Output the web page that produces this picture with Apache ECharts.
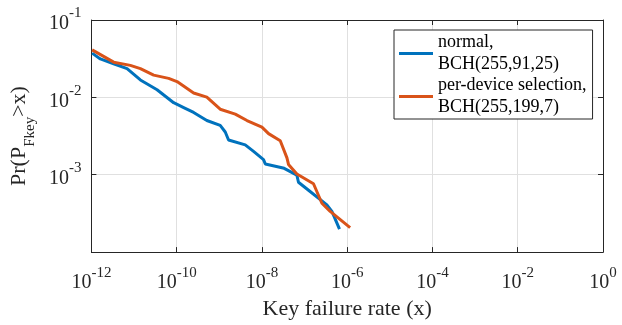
<!DOCTYPE html>
<html>
<head>
<meta charset="utf-8">
<script src="https://cdn.jsdelivr.net/npm/echarts@6/dist/echarts.min.js"></script>
<style>
  html, body { margin: 0; padding: 0; background: #fff; }
  #chart { width: 622px; height: 325px; }
</style>
</head>
<body>
<div id="chart"></div>
<script>
// series names
const seriesNames = ['normal,\nBCH(255,91,25)', 'per-device selection,\nBCH(255,199,7)']

// normal, BCH(255,91,25)
const normalX = [1.04e-12, 1.62e-12, 3.33e-12, 6.87e-12, 1.41e-11, 3.47e-11, 8.5e-11, 1.46e-10, 2.5e-10, 5.1e-10,
  1.05e-9, 1.38e-9, 1.65e-9, 4.06e-9, 6.36e-9, 1.09e-8, 1.2e-8, 3.33e-8, 6.6e-8, 7.2e-8,
  1.24e-7, 3.34e-7, 4.38e-7, 6.6e-7]
const normalY = [0.0373, 0.0314, 0.0272, 0.0235, 0.0168, 0.01254, 0.00853, 0.00738, 0.00638, 0.00502,
  0.00434, 0.00357, 0.00281, 0.00243, 0.002, 0.00157, 0.001374, 0.00121, 0.00099, 0.0008,
  0.00063, 0.000407, 0.000336, 0.000198]

// per-device selection, BCH(255,199,7)
const perDeviceX = [1.04e-12, 3.33e-12, 8.2e-12, 1.41e-11, 2.89e-11, 6.49e-11, 1.02e-10, 2.5e-10, 5.1e-10, 1.05e-9,
  2.37e-9, 4.46e-9, 1.0e-8, 1.43e-8, 2.69e-8, 3.86e-8, 4.2e-8, 6.6e-8, 1.62e-7, 2.55e-7,
  3.99e-7, 1.17e-6]
const perDeviceY = [0.0411, 0.0285, 0.0259, 0.0235, 0.0194, 0.0176, 0.016, 0.0114, 0.01007, 0.00703,
  0.00608, 0.00502, 0.00413, 0.0034, 0.00275, 0.00165, 0.00136, 0.00102, 0.000764, 0.000428,
  0.000336, 0.000207]

// axis ranges
const xRange = [1e-12, 1]
const yRange = [1e-4, 1e-1]

const zip = (xs, ys) => xs.map((x, i) => [x, ys[i]])

const chart = echarts.init(document.getElementById('chart'))

const axisColor = '#262626'
const font = 'Liberation Serif'

const powLabel = (v) => {
  const e = Math.round(Math.log10(v))
  return '{b|10}{e|' + e + '}'
}
const powRich = {
  b: { fontSize: 20, fontFamily: font, color: axisColor, lineHeight: 28, verticalAlign: 'bottom' },
  e: { fontSize: 15, fontFamily: font, color: axisColor, lineHeight: 14, verticalAlign: 'top' },
}

const option = {
  animation: false,
  grid: { left: 91, right: 19, top: 20, bottom: 66 },
  legend: {
    orient: 'vertical',
    left: 394,
    top: 30,
    padding: [2, 6, 1, 5],
    itemGap: 0,
    itemWidth: 34,
    itemHeight: 3,
    icon: 'rect',
    borderColor: axisColor,
    borderWidth: 1,
    backgroundColor: '#fff',
    textStyle: { fontFamily: font, fontSize: 18, lineHeight: 21.5, color: '#000' },
    data: seriesNames,
  },
  xAxis: [
    {
      type: 'log',
      logBase: 100,
      min: xRange[0],
      max: xRange[1],
      splitNumber: 6,
      name: 'Key failure rate (x)',
      nameLocation: 'middle',
      nameGap: 45,
      nameTextStyle: { fontFamily: font, fontSize: 22, color: axisColor },
      axisLine: { lineStyle: { color: axisColor, width: 1 } },
      axisTick: { inside: true, length: 5, lineStyle: { color: axisColor } },
      axisLabel: { formatter: powLabel, rich: powRich, margin: 13 },
      splitLine: { show: true, lineStyle: { color: '#e0e0e0' } },
      minorTick: { show: false },
    },
    {
      type: 'log',
      logBase: 100,
      min: xRange[0],
      max: xRange[1],
      splitNumber: 6,
      position: 'top',
      axisLine: { lineStyle: { color: axisColor, width: 1 } },
      axisTick: { inside: true, length: 5, lineStyle: { color: axisColor } },
      axisLabel: { show: false },
      splitLine: { show: false },
    },
  ],
  yAxis: [
    {
      type: 'log',
      logBase: 10,
      min: yRange[0],
      max: yRange[1],
      splitNumber: 3,
      name: '{m|Pr(P}{s|Fkey}{m|>x)}',
      nameLocation: 'middle',
      nameRotate: 90,
      nameGap: 52,
      nameTextStyle: {
        rich: {
          m: { fontFamily: font, fontSize: 22, color: axisColor, lineHeight: 30, verticalAlign: 'top' },
          s: { fontFamily: font, fontSize: 15, color: axisColor, lineHeight: 15, verticalAlign: 'bottom' },
        },
      },
      axisLine: { lineStyle: { color: axisColor, width: 1 } },
      axisTick: { inside: true, length: 5, lineStyle: { color: axisColor } },
      axisLabel: {
        formatter: (v) => (v < 1.5e-4 ? '' : powLabel(v)),
        rich: powRich,
        margin: 10,
      },
      splitLine: { show: true, lineStyle: { color: '#e0e0e0' } },
      minorTick: { show: false },
    },
    {
      type: 'log',
      logBase: 10,
      min: yRange[0],
      max: yRange[1],
      splitNumber: 3,
      position: 'right',
      axisLine: { lineStyle: { color: axisColor, width: 1 } },
      axisTick: { inside: true, length: 5, lineStyle: { color: axisColor } },
      axisLabel: { show: false },
      splitLine: { show: false },
    },
  ],
  series: [
    {
      name: seriesNames[0],
      type: 'line',
      data: zip(normalX, normalY),
      showSymbol: false,
      itemStyle: { color: '#0072BD' },
      lineStyle: { color: '#0072BD', width: 3 },
    },
    {
      name: seriesNames[1],
      type: 'line',
      data: zip(perDeviceX, perDeviceY),
      showSymbol: false,
      itemStyle: { color: '#D95319' },
      lineStyle: { color: '#D95319', width: 3 },
    },
  ],
}

chart.setOption(option)
</script>
</body>
</html>
